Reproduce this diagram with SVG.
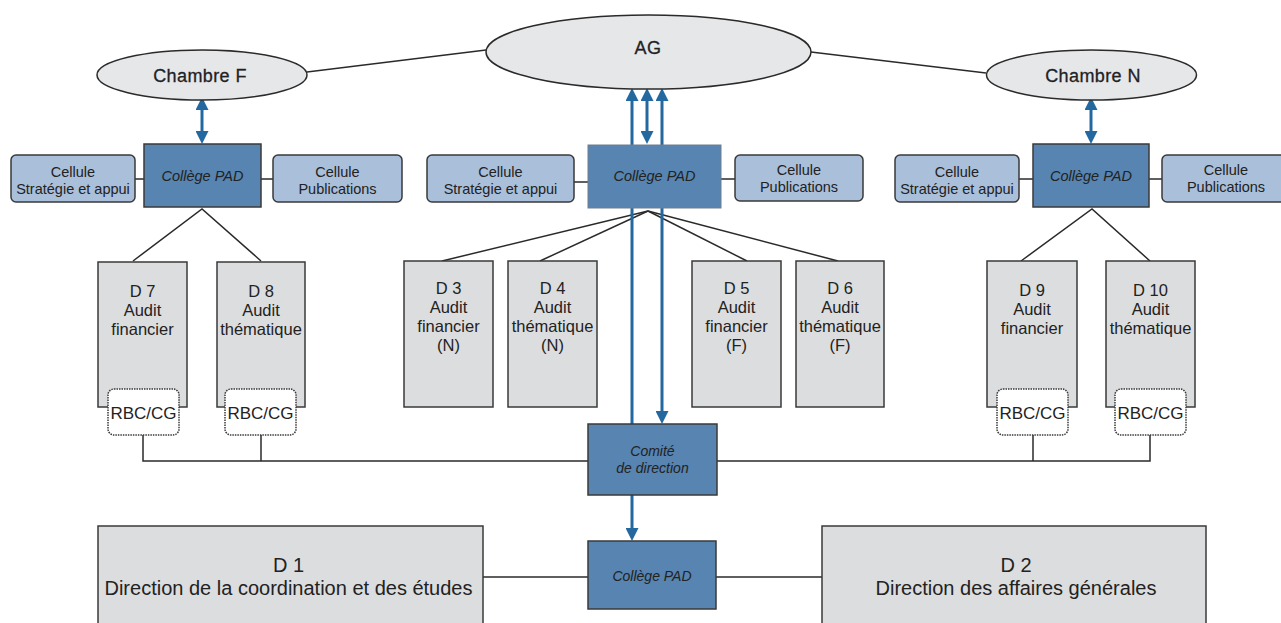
<svg xmlns="http://www.w3.org/2000/svg" width="1281" height="623" viewBox="0 0 1281 623">
<defs>
<style>
text{font-family:"Liberation Sans",Arial,sans-serif;fill:#222;text-anchor:middle}
.ell{fill:#e6e7e9;stroke:#2a2a2a;stroke-width:1.5}
.elt{font-size:18px;stroke:#222;stroke-width:0.3;letter-spacing:0.4px}
.college{fill:#5784b0;stroke:#3a3a3a;stroke-width:1.5}
.colt{font-size:14.5px;font-style:italic}
.cell{fill:#a9bfda;stroke:#3a3a3a;stroke-width:1.5}
.cellt{font-size:14.5px}
.dbox{fill:#dcdddf;stroke:#3a3a3a;stroke-width:1.5}
.dt{font-size:16.5px}
.rbc{fill:#fff;stroke:#3a3a3a;stroke-width:1.5;stroke-dasharray:1.5 1}
.rbct{font-size:17px}
.bigt{font-size:20px}
.ln{stroke:#2a2a2a;stroke-width:1.5;fill:none}
.bl{stroke:#2468a0;stroke-width:3;fill:none}
</style>
<marker id="ah" viewBox="0 0 13 13" refX="8" refY="6.5" markerWidth="13" markerHeight="13" markerUnits="userSpaceOnUse" orient="auto-start-reverse">
<path d="M0,0 L13,6.5 L0,13 z" fill="#2468a0"/>
</marker>
</defs>
<rect width="1281" height="623" fill="#fff"/>

<g id="connectors">
<line class="ln" x1="307" y1="72" x2="486" y2="50"/>
<line class="ln" x1="811" y1="52" x2="986" y2="73"/>
<line class="ln" x1="135" y1="179" x2="144" y2="179"/>
<line class="ln" x1="261" y1="179" x2="273" y2="179"/>
<line class="ln" x1="574" y1="182" x2="588" y2="182"/>
<line class="ln" x1="721" y1="179" x2="735" y2="179"/>
<line class="ln" x1="1019" y1="179" x2="1033" y2="179"/>
<line class="ln" x1="1149" y1="179" x2="1162" y2="179"/>
<polyline class="ln" points="133,261 202,209 261,261"/>
<polyline class="ln" points="1021,261 1092,209 1150,261"/>
<line class="ln" x1="648" y1="211" x2="442" y2="261"/>
<line class="ln" x1="648" y1="211" x2="540" y2="261"/>
<line class="ln" x1="648" y1="211" x2="747" y2="261"/>
<line class="ln" x1="648" y1="211" x2="838" y2="261"/>
<polyline class="ln" points="143,435 143,461 588,461"/>
<line class="ln" x1="261" y1="435" x2="261" y2="461"/>
<polyline class="ln" points="1150,435 1150,461 717,461"/>
<line class="ln" x1="1033" y1="435" x2="1033" y2="461"/>
<line class="ln" x1="483" y1="577" x2="588" y2="577"/>
<line class="ln" x1="716" y1="577" x2="822" y2="577"/>
<line class="bl" x1="202" y1="102" x2="202" y2="139" marker-start="url(#ah)" marker-end="url(#ah)"/>
<line class="bl" x1="1091" y1="102" x2="1091" y2="139" marker-start="url(#ah)" marker-end="url(#ah)"/>
<line class="bl" x1="647" y1="93" x2="647" y2="139" marker-start="url(#ah)" marker-end="url(#ah)"/>
<line class="bl" x1="632" y1="93" x2="632" y2="536" marker-start="url(#ah)" marker-end="url(#ah)"/>
<line class="bl" x1="662" y1="93" x2="662" y2="419" marker-start="url(#ah)" marker-end="url(#ah)"/>
</g>

<g id="ag"><ellipse class="ell" cx="648.5" cy="52" rx="162.5" ry="37"/><text class="elt" x="648" y="54">AG</text></g>
<g id="chambre-f"><ellipse class="ell" cx="202" cy="75" rx="105" ry="25"/><text class="elt" x="200" y="82">Chambre F</text></g>
<g id="chambre-n"><ellipse class="ell" cx="1091.5" cy="75" rx="105" ry="25"/><text class="elt" x="1093" y="82">Chambre N</text></g>

<g id="college-f"><rect class="college" x="144" y="144" width="117" height="63"/><text class="colt" x="202.5" y="181">Collège PAD</text></g>
<g id="cellule-strat-f"><rect class="cell" x="11" y="155" width="124" height="47" rx="5"/><text class="cellt" x="73" y="177">Cellule</text><text class="cellt" x="73" y="194">Stratégie et appui</text></g>
<g id="cellule-pub-f"><rect class="cell" x="273" y="155" width="129" height="47" rx="5"/><text class="cellt" x="337.5" y="177">Cellule</text><text class="cellt" x="337.5" y="194">Publications</text></g>

<g id="college-c"><rect x="588" y="145" width="133" height="63" fill="#5784b0" stroke="#6f7f90" stroke-width="1"/><text class="colt" x="654.5" y="181">Collège PAD</text></g>
<g id="cellule-strat-c"><rect class="cell" x="427" y="155" width="147" height="47" rx="5"/><text class="cellt" x="500.5" y="177">Cellule</text><text class="cellt" x="500.5" y="194">Stratégie et appui</text></g>
<g id="cellule-pub-c"><rect class="cell" x="735" y="155" width="128" height="46" rx="5"/><text class="cellt" x="799" y="175">Cellule</text><text class="cellt" x="799" y="192">Publications</text></g>

<g id="college-n"><rect class="college" x="1033" y="144" width="116" height="63"/><text class="colt" x="1091" y="181">Collège PAD</text></g>
<g id="cellule-strat-n"><rect class="cell" x="895" y="155" width="124" height="47" rx="5"/><text class="cellt" x="957" y="177">Cellule</text><text class="cellt" x="957" y="194">Stratégie et appui</text></g>
<g id="cellule-pub-n"><rect class="cell" x="1162" y="155" width="128" height="47" rx="5"/><text class="cellt" x="1226" y="175">Cellule</text><text class="cellt" x="1226" y="192">Publications</text></g>

<g id="d7"><rect class="dbox" x="98" y="262" width="89" height="145"/><text class="dt" x="142.5" y="297">D 7</text><text class="dt" x="142.5" y="316">Audit</text><text class="dt" x="142.5" y="335">financier</text></g>
<g id="rbc-d7"><rect class="rbc" x="108" y="389" width="71" height="46" rx="6"/><text class="rbct" x="143.5" y="419">RBC/CG</text></g>
<g id="d8"><rect class="dbox" x="217" y="262" width="88" height="145"/><text class="dt" x="261" y="297">D 8</text><text class="dt" x="261" y="316">Audit</text><text class="dt" x="261" y="335">thématique</text></g>
<g id="rbc-d8"><rect class="rbc" x="225" y="389" width="71" height="46" rx="6"/><text class="rbct" x="260.5" y="419">RBC/CG</text></g>

<g id="d3"><rect class="dbox" x="404" y="261" width="89" height="146"/><text class="dt" x="448.5" y="294">D 3</text><text class="dt" x="448.5" y="313">Audit</text><text class="dt" x="448.5" y="332">financier</text><text class="dt" x="448.5" y="351">(N)</text></g>
<g id="d4"><rect class="dbox" x="508" y="261" width="89" height="146"/><text class="dt" x="552.5" y="294">D 4</text><text class="dt" x="552.5" y="313">Audit</text><text class="dt" x="552.5" y="332">thématique</text><text class="dt" x="552.5" y="351">(N)</text></g>
<g id="d5"><rect class="dbox" x="692" y="261" width="89" height="146"/><text class="dt" x="736.5" y="294">D 5</text><text class="dt" x="736.5" y="313">Audit</text><text class="dt" x="736.5" y="332">financier</text><text class="dt" x="736.5" y="351">(F)</text></g>
<g id="d6"><rect class="dbox" x="796" y="261" width="88" height="146"/><text class="dt" x="840" y="294">D 6</text><text class="dt" x="840" y="313">Audit</text><text class="dt" x="840" y="332">thématique</text><text class="dt" x="840" y="351">(F)</text></g>

<g id="d9"><rect class="dbox" x="987" y="261" width="90" height="146"/><text class="dt" x="1032" y="296">D 9</text><text class="dt" x="1032" y="315">Audit</text><text class="dt" x="1032" y="334">financier</text></g>
<g id="rbc-d9"><rect class="rbc" x="997" y="389" width="71" height="46" rx="6"/><text class="rbct" x="1032.5" y="419">RBC/CG</text></g>
<g id="d10"><rect class="dbox" x="1106" y="261" width="89" height="146"/><text class="dt" x="1150.5" y="296">D 10</text><text class="dt" x="1150.5" y="315">Audit</text><text class="dt" x="1150.5" y="334">thématique</text></g>
<g id="rbc-d10"><rect class="rbc" x="1115" y="389" width="71" height="46" rx="6"/><text class="rbct" x="1150.5" y="419">RBC/CG</text></g>

<g id="comite"><rect class="college" x="588" y="424" width="129" height="71"/><text class="colt" x="652.5" y="456" style="font-size:14px">Comité</text><text class="colt" x="652.5" y="473" style="font-size:14px">de direction</text></g>

<g id="college-bottom"><rect class="college" x="588" y="541" width="128" height="68"/><text class="colt" x="652" y="581" style="font-size:14px">Collège PAD</text></g>
<g id="d1"><rect class="dbox" x="98" y="526" width="385" height="110"/><text class="bigt" x="288.5" y="572">D 1</text><text class="bigt" x="288.5" y="595">Direction de la coordination et des études</text></g>
<g id="d2"><rect class="dbox" x="822" y="526" width="384" height="110"/><text class="bigt" x="1016" y="572">D 2</text><text class="bigt" x="1016" y="595">Direction des affaires générales</text></g>
</svg>
